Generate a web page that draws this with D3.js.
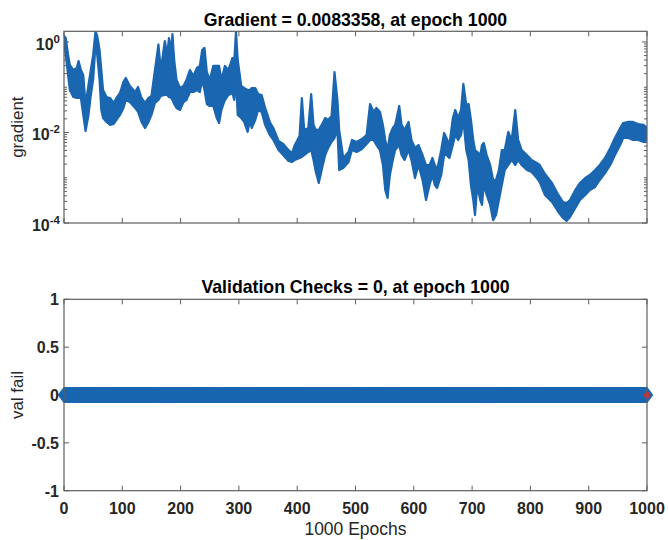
<!DOCTYPE html>
<html><head><meta charset="utf-8">
<script src="https://cdn.jsdelivr.net/npm/d3@7"></script>
<style>
body{margin:0;background:#fff}
text{font-family:"Liberation Sans",Arial,Helvetica,sans-serif}
</style>
</head><body>
<svg id="c" width="668" height="540"></svg>
<script>
// ---- data ----
// gradient oscillates every epoch; upper and lower envelope of the trace, read at these epochs
const gradEpochs = [0,3,7,10,16,22,25,29,33,37,42,46,50,54,57,61,64,67,73,79,85,90,96,102,106,113,122,127,133,139,145,150,156,162,166,173,177,180,184,186,189,193,199,205,210,216,222,228,233,237,241,245,250,256,262,266,270,276,282,289,292,295,298,304,309,315,319,322,328,333,339,345,353,359,368,376,385,391,396,404,408,412,419,424,428,432,437,442,448,453,459,464,469,472,479,488,494,502,511,519,525,531,536,542,547,551,555,559,564,568,575,579,584,591,596,602,608,615,621,627,632,636,640,647,652,656,661,667,671,676,681,685,690,694,698,702,705,709,714,717,720,725,731,736,741,746,751,756,762,768,774,779,785,794,802,811,816,825,837,848,856,862,868,877,885,894,902,911,919,928,937,945,954,959,968,976,985,994,1000];
const gradHigh = [1.36,1.22,0.516,0.31,0.24,0.266,0.38,0.24,0.187,0.0405,0.112,0.24,0.516,1.72,1.36,0.665,0.24,0.0869,0.0609,0.0578,0.0449,0.0578,0.0746,0.131,0.16,0.107,0.0785,0.101,0.0578,0.0449,0.0578,0.0641,0.24,0.88,0.24,1.05,0.516,1.22,0.665,1.5,0.4,0.145,0.0962,0.107,0.145,0.24,0.177,0.266,0.295,0.665,0.74,0.217,0.145,0.295,0.295,0.295,0.145,0.295,0.24,0.443,0.361,1.72,0.4,0.107,0.0962,0.0869,0.0869,0.0962,0.0962,0.0709,0.0674,0.0348,0.0171,0.0126,0.00649,0.00557,0.0041,0.00352,0.00529,0.00837,0.0578,0.0114,0.0126,0.0709,0.0147,0.0114,0.0114,0.0147,0.0209,0.0189,0.0232,0.217,0.0522,0.0114,0.00273,0.00371,0.00683,0.00617,0.00718,0.00881,0.0426,0.0284,0.0348,0.0284,0.0147,0.00683,0.0041,0.00881,0.0126,0.0147,0.0385,0.0147,0.0114,0.0171,0.00683,0.00454,0.00529,0.00318,0.00191,0.00191,0.00273,0.00191,0.00148,0.0041,0.00975,0.00756,0.00529,0.0209,0.0314,0.0209,0.0314,0.118,0.0405,0.0426,0.0189,0.00683,0.0041,0.00371,0.00318,0.00529,0.00586,0.00318,0.00191,0.000891,0.000891,0.00148,0.0041,0.0041,0.0103,0.00683,0.0314,0.00683,0.0041,0.00318,0.00247,0.00212,0.00191,0.00121,0.000766,0.000416,0.000291,0.000277,0.000322,0.000536,0.000766,0.000986,0.00115,0.00148,0.00191,0.00273,0.00454,0.00756,0.0126,0.0162,0.0171,0.0171,0.0154,0.0147,0.0126];
const gradLow = [1.11,0.516,0.187,0.0869,0.0609,0.0578,0.0578,0.0578,0.0244,0.0108,0.0244,0.0674,0.145,0.86,0.516,0.145,0.0314,0.0209,0.0171,0.0147,0.0154,0.0189,0.0244,0.0348,0.0522,0.0472,0.0348,0.0284,0.0171,0.0126,0.0171,0.0244,0.0449,0.0522,0.0641,0.0674,0.0674,0.0609,0.0578,0.0522,0.0426,0.0348,0.0314,0.0472,0.0522,0.0785,0.0785,0.0869,0.0785,0.145,0.0869,0.0426,0.0385,0.0385,0.0209,0.0162,0.0314,0.0522,0.0674,0.0746,0.0522,0.145,0.0244,0.0209,0.0171,0.0103,0.0189,0.0126,0.0189,0.0314,0.0284,0.0147,0.00881,0.00683,0.0041,0.00318,0.00234,0.00223,0.00247,0.00273,0.00288,0.00318,0.00371,0.0041,0.00247,0.00134,0.000766,0.00148,0.00318,0.00454,0.00617,0.00756,0.0114,0.00148,0.00164,0.00223,0.0041,0.00371,0.00432,0.00557,0.00683,0.00683,0.00529,0.0041,0.00191,0.000536,0.000357,0.00115,0.00247,0.0041,0.00529,0.00318,0.00247,0.0041,0.00247,0.000986,0.00191,0.000891,0.000322,0.000692,0.00115,0.000692,0.000593,0.00115,0.00318,0.00318,0.00273,0.00529,0.00881,0.00683,0.00881,0.0189,0.0041,0.00247,0.000692,0.000322,0.00015,0.000692,0.000322,0.00025,0.000692,0.000416,0.00025,0.000116,0.00015,0.000322,0.000692,0.00148,0.00191,0.00247,0.00191,0.00247,0.00191,0.00148,0.00134,0.000986,0.000805,0.000416,0.000291,0.000175,0.000129,0.000111,0.000136,0.000214,0.000322,0.000416,0.000536,0.000625,0.000891,0.00127,0.00191,0.00318,0.00529,0.00756,0.00756,0.00683,0.00683,0.00617,0.00683];
const finalGradient = 0.0083358;
const gradTitle = "Gradient = 0.0083358, at epoch 1000";
const valTitle = "Validation Checks = 0, at epoch 1000";
const xTicks = [0,100,200,300,400,500,600,700,800,900,1000];
const gradTickExps = [-4,-2,0];
const valTicks = [-1,-0.5,0,0.5,1];
const valTickLabels = ["-1","-0.5","0","0.5","1"];
const valEpochs = d3.range(0, 1001);          // every epoch 0..1000
const valFail = valEpochs.map(() => 0);        // validation fail count reads 0 throughout
const bestEpoch = 1000, bestVal = 0;

// ---- layout ----
const svg = d3.select("#c");
const L = 64, R = 647;
const T1 = 31.3, B1 = 223, T2 = 299.3, B2 = 490.7;
const axisCol = "#5e5e5e", blue = "#1a66b0";

const x = d3.scaleLinear().domain([0,1000]).range([L,R]);
const yG = d3.scaleLog().domain([1e-4, 1.72]).range([B1,T1]).clamp(true);
const yV = d3.scaleLinear().domain([-1,1]).range([B2,T2]);

function frame(top, bottom){
  const g = svg.append("g");
  g.selectAll(null).data(xTicks).join("line")
    .attr("x1",d=>x(d)).attr("x2",d=>x(d)).attr("y1",bottom).attr("y2",bottom-5)
    .attr("stroke",axisCol).attr("stroke-width",1);
  g.selectAll(null).data(xTicks).join("line")
    .attr("x1",d=>x(d)).attr("x2",d=>x(d)).attr("y1",top).attr("y2",top+5)
    .attr("stroke",axisCol).attr("stroke-width",1);
  return g;
}

// ===== top: gradient =====
const g1 = frame(T1,B1);
const minor = [];
for (let e=-4; e<=0; e++) for (let k=1;k<=9;k++){ const v=k*Math.pow(10,e); if (v<=1.72) minor.push({v, major: k===1 && gradTickExps.includes(e)}); }
[L,R].forEach((xx,i)=>{
  const s = i===0?1:-1;
  g1.selectAll(null).data(minor).join("line")
    .attr("x1",xx).attr("x2",d=>xx+s*(d.major?5:3))
    .attr("y1",d=>yG(d.v)).attr("y2",d=>yG(d.v))
    .attr("stroke",axisCol).attr("stroke-width",1);
});
svg.append("clipPath").attr("id","cp1").append("rect")
  .attr("x",L).attr("y",T1).attr("width",R-L).attr("height",B1-T1);
const gradPts = gradEpochs.map((e,i)=>({e, hi:gradHigh[i], lo:gradLow[i]}));
svg.append("path").datum(gradPts)
  .attr("clip-path","url(#cp1)")
  .attr("fill",blue).attr("stroke",blue).attr("stroke-width",2.2)
  .attr("stroke-linejoin","round")
  .attr("d", d3.area().x(d=>x(d.e)).y0(d=>yG(d.lo)).y1(d=>yG(d.hi)));
svg.append("rect").attr("x",L).attr("y",T1).attr("width",R-L).attr("height",B1-T1)
  .attr("fill","none").attr("stroke",axisCol).attr("stroke-width",1.2);
gradTickExps.forEach(e=>{
  const t = svg.append("text").attr("x",60).attr("y",yG(Math.pow(10,e))+8)
    .attr("text-anchor","end").attr("font-weight","bold").attr("font-size",16).attr("fill","#262626");
  t.append("tspan").text("10");
  t.append("tspan").attr("dy",-7).attr("font-size",11.5).text(String(e));
});
svg.append("text").attr("transform",`translate(23,${(T1+B1)/2}) rotate(-90)`)
  .attr("text-anchor","middle").attr("font-size",17).attr("fill","#262626").text("gradient");
svg.append("text").attr("x",(L+R)/2).attr("y",26).attr("text-anchor","middle")
  .attr("font-weight","bold").attr("font-size",17.7).attr("fill","#000").text(gradTitle);

// ===== bottom: validation checks =====
const g2 = frame(T2,B2);
[L,R].forEach((xx,i)=>{
  const s = i===0?1:-1;
  g2.selectAll(null).data(valTicks).join("line")
    .attr("x1",xx).attr("x2",xx+s*5).attr("y1",d=>yV(d)).attr("y2",d=>yV(d))
    .attr("stroke",axisCol).attr("stroke-width",1);
});
svg.append("path").datum(valEpochs.map((e,i)=>[e,valFail[i]]))
  .attr("fill","none").attr("stroke",blue).attr("stroke-width",2)
  .attr("d", d3.line().x(d=>x(d[0])).y(d=>yV(d[1])));
svg.append("g").selectAll("path").data(valEpochs.map((e,i)=>[e,valFail[i]])).join("path")
  .attr("transform",d=>`translate(${x(d[0])},${yV(d[1])})`)
  .attr("d","M0,-8L6,0L0,8L-6,0Z").attr("fill",blue).attr("stroke",blue).attr("stroke-width",0.5);
svg.append("path").attr("transform",`translate(${x(bestEpoch)},${yV(bestVal)})`)
  .attr("d","M0,-4.6L3.6,0L0,4.6L-3.6,0Z").attr("fill","#e8232b");
svg.append("rect").attr("x",L).attr("y",T2).attr("width",R-L).attr("height",B2-T2)
  .attr("fill","none").attr("stroke",axisCol).attr("stroke-width",1.2);
svg.selectAll(null).data(valTicks).join("text")
  .attr("x",59).attr("y",d=>yV(d)+6).attr("text-anchor","end")
  .attr("font-weight","bold").attr("font-size",16).attr("fill","#262626")
  .text((d,i)=>valTickLabels[i]);
svg.selectAll(null).data(xTicks).join("text")
  .attr("x",d=>x(d)).attr("y",513.5).attr("text-anchor","middle")
  .attr("font-weight","bold").attr("font-size",16).attr("fill","#262626").text(d=>d);
svg.append("text").attr("transform",`translate(23,${(T2+B2)/2}) rotate(-90)`)
  .attr("text-anchor","middle").attr("font-size",17).attr("fill","#262626").text("val fail");
svg.append("text").attr("x",(L+R)/2).attr("y",535).attr("text-anchor","middle")
  .attr("font-size",17.5).attr("fill","#262626").text("1000 Epochs");
svg.append("text").attr("x",(L+R)/2).attr("y",292.7).attr("text-anchor","middle")
  .attr("font-weight","bold").attr("font-size",17.7).attr("fill","#000").text(valTitle);
</script>
</body></html>
